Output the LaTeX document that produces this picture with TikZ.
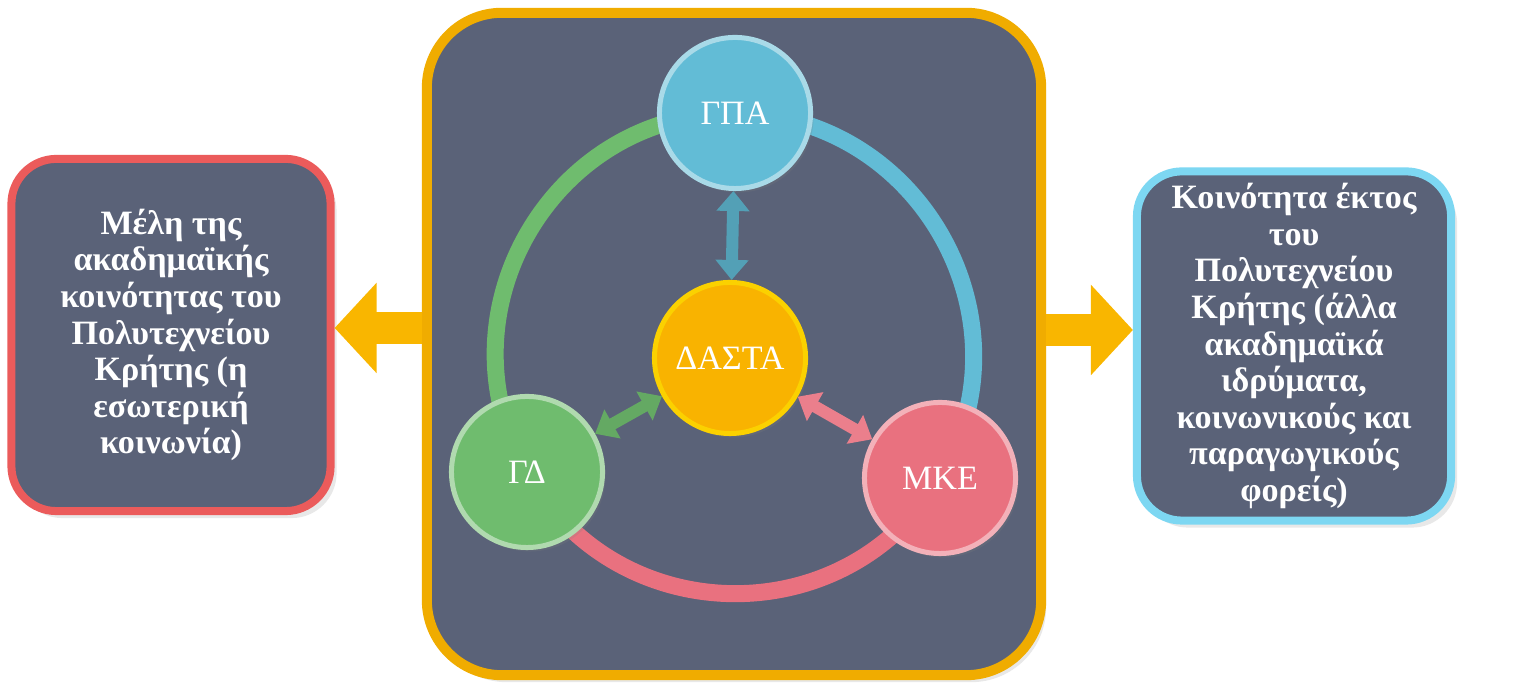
\documentclass[tikz,border=0pt]{standalone}
\usepackage{fontspec}
\setmainfont{Liberation Serif}
\usetikzlibrary{arrows.meta,positioning,shadows}
\definecolor{slate}{HTML}{5A6278}
\definecolor{hubgold}{HTML}{F0AC00}
\definecolor{arrowgold}{HTML}{F9B600}
\definecolor{dastagold}{HTML}{F9B300}
\definecolor{gpablue}{HTML}{62BCD6}
\definecolor{gdgreen}{HTML}{6FBC6E}
\definecolor{mkepink}{HTML}{E9717F}
\definecolor{innerred}{HTML}{EB5B5B}
\definecolor{outercyan}{HTML}{7DD7F2}
\pgfdeclarelayer{under}
\pgfsetlayers{under,main}
\begin{document}
\begin{tikzpicture}[
    x=0.01cm, y=0.01cm,
    hubbox/.style={rectangle, draw=hubgold, line width=0.1cm, fill=slate, rounded corners=0.75cm, minimum width=6.14cm, minimum height=6.62cm, drop shadow={opacity=0.18, shadow xshift=0.05cm, shadow yshift=-0.07cm}},
    sidebox/.style={rectangle, fill=slate, line width=0.08cm, rounded corners=0.45cm, text=white, align=center, font=\bfseries\fontsize{9.7}{10.4}\selectfont, drop shadow={opacity=0.18, shadow xshift=0.06cm, shadow yshift=-0.07cm}},
    disc/.style={circle, minimum size=1.51cm, text=white, font=\fontsize{9.7}{12}\selectfont, line width=0.05cm, drop shadow={opacity=0.2, shadow xshift=0.03cm, shadow yshift=-0.04cm}},
    ring/.style={line width=0.17cm, looseness=1.13},
    link/.style={{Triangle[width=0.32cm,length=0.2cm]}-{Triangle[width=0.32cm,length=0.2cm]}, line width=0.12cm},
    bigarrow/.style={-{Triangle[width=0.88cm,length=0.42cm]}, line width=0.32cm, draw=arrowgold}
]
\useasboundingbox (0,0) rectangle (1519,689);
\begin{pgfonlayer}{under}
\node[hubbox] (hub) at (734,345) {};
\end{pgfonlayer}

\node[sidebox, draw=innerred, minimum width=3.19cm, minimum height=3.52cm] (inner) at (171,354) {Μέλη της\\ακαδημαϊκής\\κοινότητας του\\Πολυτεχνείου\\Κρήτης (η\\εσωτερική\\κοινωνία)};
\node[sidebox, draw=outercyan, minimum width=3.14cm, minimum height=3.49cm] (outer) at (1294,343) {Κοινότητα έκτος\\του\\Πολυτεχνείου\\Κρήτης (άλλα\\ακαδημαϊκά\\ιδρύματα,\\κοινωνικούς και\\παραγωγικούς\\φορείς)};

\node[disc, fill=gpablue, draw=gpablue!55!white] (gpa) at (735,576) {ΓΠΑ};
\node[disc, fill=dastagold, draw=dastagold!60!yellow] (dasta) at (730,331) {ΔΑΣΤΑ};
\node[disc, fill=gdgreen, draw=gdgreen!55!white] (gd) at (527,217) {ΓΔ};
\node[disc, fill=mkepink, draw=mkepink!55!white] (mke) at (940,211) {ΜΚΕ};

\begin{pgfonlayer}{under}
\draw[ring, draw=gdgreen] (gpa.center) to[bend right=60] (gd.center);
\draw[ring, draw=gpablue] (gpa.center) to[bend left=60] (mke.center);
\draw[ring, draw=mkepink] (gd.center) to[bend right=60] (mke.center);
\end{pgfonlayer}

\draw[link, draw=gpablue!85!black] (gpa) -- (dasta);
\draw[link, draw=gdgreen!90!black] (gd) -- (dasta);
\draw[link, draw=mkepink!90!white] (dasta) -- (mke);

\draw[bigarrow] ([yshift=0.16cm]hub.west) -- ([yshift=0.16cm]hub.west -| inner.east);
\draw[bigarrow] ([yshift=0.14cm]hub.east) -- ([yshift=0.14cm]hub.east -| outer.west);
\end{tikzpicture}
\end{document}
